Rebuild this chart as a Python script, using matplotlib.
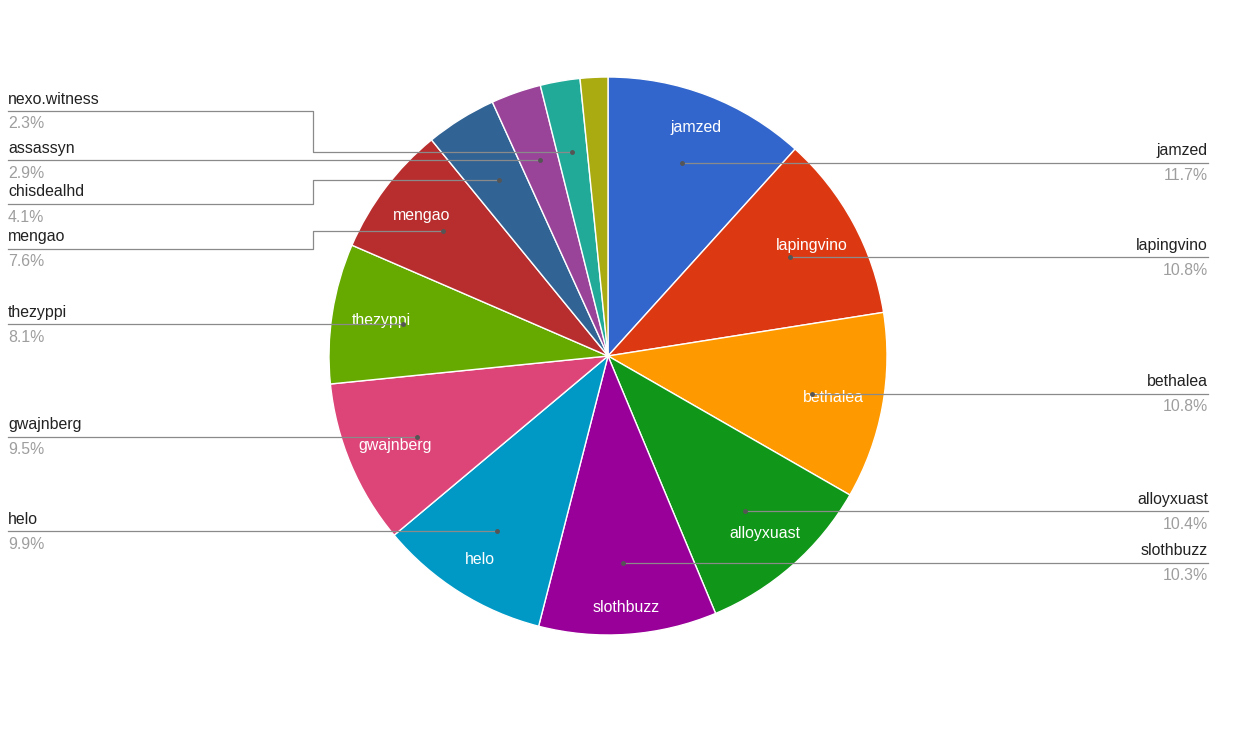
import numpy as np
import matplotlib
matplotlib.use('Agg')
import matplotlib.pyplot as plt

plt.rcParams['font.family'] = ['Liberation Sans', 'DejaVu Sans']

# slices, clockwise from 12 o'clock
names = ['jamzed', 'lapingvino', 'bethalea', 'alloyxuast', 'slothbuzz', 'helo',
         'gwajnberg', 'thezyppi', 'mengao', 'chisdealhd', 'assassyn',
         'nexo.witness', '']
shares = [11.7, 10.8, 10.8, 10.4, 10.3, 9.9, 9.5, 8.1, 7.6, 4.1, 2.9, 2.3, 1.6]
colors = ['#3366cc', '#dc3912', '#ff9900', '#109618', '#990099', '#0099c6',
          '#dd4477', '#66aa00', '#b82e2e', '#316395', '#994499', '#22aa99',
          '#aaaa11']

# y (pixels) of the leader line under each outside label
label_line_y = [162, 259, 397, 515, 567, 536, 440, 326, 249, 204, 158, 111, None]

W, H = 1250, 750
cx, cy, R = 608, 356, 279
left_x, right_x, elbow_x = 8, 1208, 313
fs = 11.4

fig = plt.figure(figsize=(W / 100, H / 100), dpi=100)
ax = fig.add_axes([0, 0, 1, 1])

wedges, _ = ax.pie(
    shares, colors=colors,
    startangle=-90, counterclock=True, center=(cx, cy), radius=R,
    wedgeprops=dict(edgecolor='white', linewidth=1),
)

ax.set_xlim(0, W)
ax.set_ylim(H, 0)
ax.axis('off')

line_col = '#8a8a8a'
for w, name, share, ly in zip(wedges, names, shares, label_line_y):
    mid = np.deg2rad((w.theta1 + w.theta2) / 2)
    # label inside the slice (wide text sits a bit closer to the centre)
    if share >= 5:
        rl = (0.91 - 0.09 * abs(np.cos(mid))) * R
        ax.text(cx + rl * np.cos(mid), cy + rl * np.sin(mid), name,
                ha='center', va='center', color='white', fontsize=fs)
    if not name or ly is None:
        continue
    ax_, ay = cx + 0.743 * R * np.cos(mid), cy + 0.743 * R * np.sin(mid)
    if abs(ly - ay) < 6:
        ly = ay
    if ax_ < cx:
        if ly == ay:
            xs, ys = [left_x, ax_], [ly, ay]
        else:
            xs, ys = [left_x, elbow_x, elbow_x, ax_], [ly, ly, ay, ay]
        tx, ha = left_x, 'left'
    else:
        xs, ys = [ax_, right_x], [ay, ly]
        tx, ha = right_x, 'right'
    ax.plot(xs, ys, color=line_col, lw=0.9, zorder=5)
    ax.plot(ax_, ay, 'o', color='#555555', ms=2.5, zorder=6)
    ax.text(tx, ly - 12, name, ha=ha, va='center', fontsize=fs,
            color='#222222')
    ax.text(tx, ly + 13, f'{share}%', ha=ha, va='center', fontsize=fs,
            color='#9e9e9e')

fig.savefig('out.png', dpi=100)
plt.close(fig)
